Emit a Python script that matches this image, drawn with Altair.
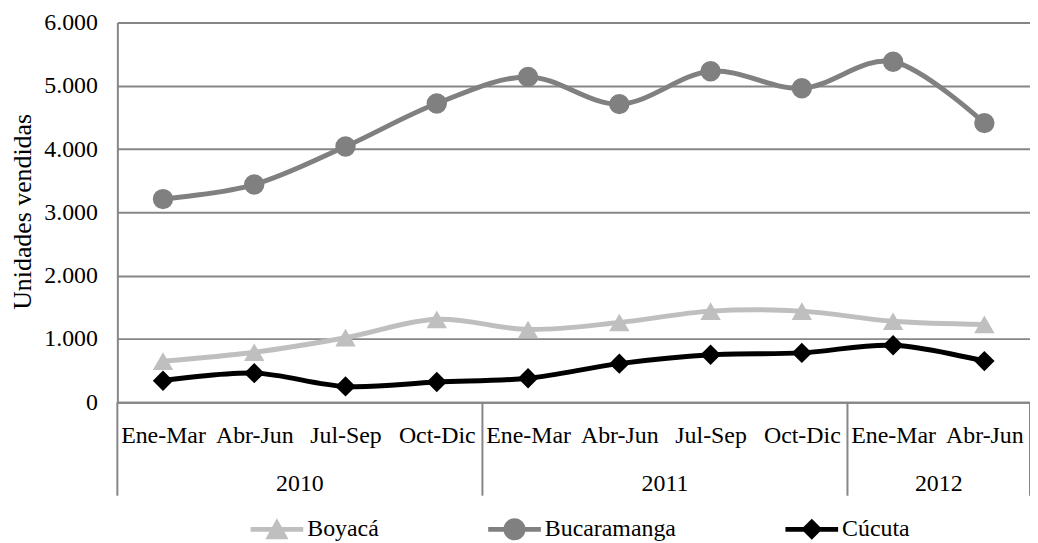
import altair as alt
import pandas as pd

# ---- data ----
quarters = ["Ene-Mar", "Abr-Jun", "Jul-Sep", "Oct-Dic",
            "Ene-Mar", "Abr-Jun", "Jul-Sep", "Oct-Dic",
            "Ene-Mar", "Abr-Jun"]
years = ["2010", "2010", "2010", "2010",
         "2011", "2011", "2011", "2011",
         "2012", "2012"]
boyaca = [650, 790, 1020, 1310, 1150, 1260, 1440, 1440, 1280, 1230]
bucaramanga = [3210, 3440, 4040, 4720, 5140, 4710, 5230, 4960, 5380, 4410]
cucuta = [340, 460, 250, 320, 380, 610, 750, 780, 900, 650]

series_names = ["Boyacá", "Bucaramanga", "Cúcuta"]
series_colors = ["#BFBFBF", "#808080", "#000000"]
marker_shapes = ["triangle-up", "circle", "diamond"]
y_ticks = [0, 1000, 2000, 3000, 4000, 5000, 6000]

# legend symbols: a short line with the marker on it
bar = "M-1,-0.09H1V0.09H-1Z"
legend_paths = [
    bar + "M0,-0.42L0.44,0.38H-0.44Z",
    bar + "M-0.42,0A0.42,0.42 0 1,1 0.42,0A0.42,0.42 0 1,1 -0.42,0Z",
    bar + "M0,-0.4L0.4,0L0,0.4L-0.4,0Z",
]

rows = []
for name, vals in zip(series_names, [boyaca, bucaramanga, cucuta]):
    for i, (q, yr, v) in enumerate(zip(quarters, years, vals)):
        rows.append({"idx": i, "trimestre": q, "anio": yr, "serie": name, "valor": v})
df = pd.DataFrame(rows)

year_rows = []
for yr in dict.fromkeys(years):
    ids = [i for i, yy in enumerate(years) if yy == yr]
    year_rows.append({"anio": yr, "mid": (ids[0] + ids[-1]) / 2,
                      "start": ids[0] - 0.5, "end": ids[-1] + 0.5})
yd = pd.DataFrame(year_rows)
sepdf = pd.DataFrame({"pos": sorted(set(list(yd["start"]) + list(yd["end"])))})

# ---- styling ----
W, H = 918, 382
FONT = "Liberation Serif, DejaVu Serif, Times New Roman, serif"
GRID = "#868686"

label_js = "[" + ",".join("'%s'" % q for q in quarters) + "]"
x_scale = alt.Scale(domain=[-0.5, len(quarters) - 0.5], nice=False, zero=False)
x_axis = alt.Axis(values=list(range(len(quarters))),
                  labelExpr=label_js + "[datum.value]",
                  title=None, grid=False, ticks=False, tickSize=0,
                  domainColor=GRID, domainWidth=2,
                  labelFont=FONT, labelFontSize=24, labelColor="black",
                  labelPadding=21, labelFlush=False, labelOverlap=False)
y_axis = alt.Axis(values=y_ticks,
                  labelExpr="replace(format(datum.value, ','), ',', '.')",
                  grid=True, gridColor=GRID, gridWidth=2,
                  ticks=False, tickSize=0,
                  domainColor=GRID, domainWidth=2,
                  labelFont=FONT, labelFontSize=24, labelColor="black",
                  labelPadding=20,
                  title="Unidades vendidas", titleFont=FONT, titleFontSize=26,
                  titleFontWeight="normal", titleColor="black",
                  titleAngle=270, titleAlign="center", titleBaseline="middle",
                  titleX=-95, titleY=190)
y_scale = alt.Scale(domain=[0, 6000], nice=False)

X = alt.X("idx:Q", scale=x_scale, axis=x_axis)
Y = alt.Y("valor:Q", scale=y_scale, axis=y_axis)
color_scale = alt.Scale(domain=series_names, range=series_colors)

lines = alt.Chart(df).mark_line(interpolate="cardinal", strokeWidth=5).encode(
    x=X, y=Y,
    color=alt.Color("serie:N", scale=color_scale, legend=None),
)

points = alt.Chart(df).mark_point(filled=True, size=420, opacity=1).encode(
    x=X, y=Y,
    color=alt.Color("serie:N", scale=color_scale, legend=None),
    shape=alt.Shape("serie:N", scale=alt.Scale(domain=series_names, range=marker_shapes),
                    legend=None),
)

leg = alt.Legend(orient="none", legendX=134, legendY=483, direction="horizontal",
                 title=None, labelFont=FONT, labelFontSize=24, labelColor="black",
                 symbolSize=2809, symbolStrokeWidth=0, columnPadding=110,
                 labelOffset=4)
legend_layer = alt.Chart(df).transform_filter("false").mark_point(
    filled=True, size=2809, opacity=1
).encode(
    x=X, y=Y,
    color=alt.Color("serie:N", scale=color_scale, legend=leg),
    shape=alt.Shape("serie:N", scale=alt.Scale(domain=series_names, range=legend_paths),
                    legend=leg),
)

seps = alt.Chart(sepdf).mark_rule(color=GRID, strokeWidth=2).encode(
    x=alt.X("pos:Q", scale=x_scale, axis=x_axis),
    y=alt.value(H), y2=alt.value(H + 94),
)

year_text = alt.Chart(yd).mark_text(font=FONT, fontSize=24, color="black",
                                    baseline="middle", align="center").encode(
    x=alt.X("mid:Q", scale=x_scale, axis=x_axis),
    y=alt.value(H + 82),
    text="anio:N",
)

chart = alt.layer(seps, year_text, lines, points, legend_layer).resolve_scale(
    color="independent", shape="independent"
).properties(
    width=W, height=H,
    autosize=alt.AutoSizeParams(type="none"),
    padding={"left": 110, "top": 13, "right": 0, "bottom": 140},
    background="white",
).configure_view(stroke=None)

chart.save("out.html", embed_options={"renderer": "svg", "actions": False})
